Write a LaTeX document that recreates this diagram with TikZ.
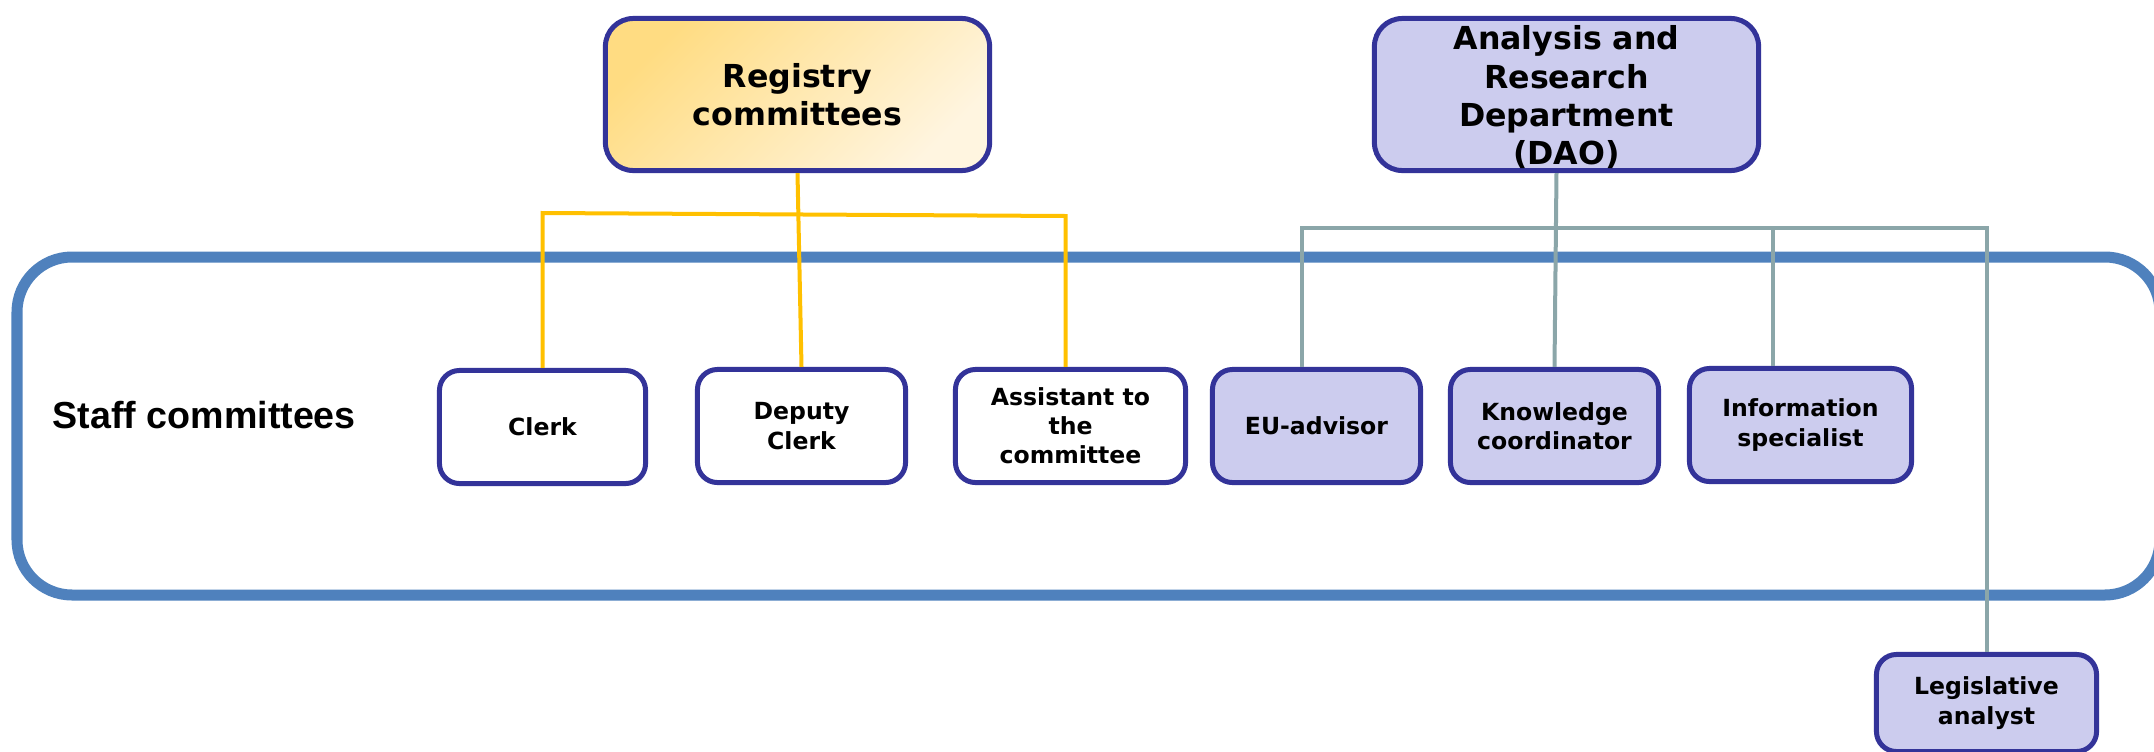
\documentclass[tikz,border=0pt]{standalone}
\usepackage{fontspec}
\setmainfont{DejaVu Sans}
\newfontfamily\arialfont{Liberation Sans}
\definecolor{boxblue}{RGB}{51,51,153}
\definecolor{boxfill}{RGB}{204,204,238}
\definecolor{staffblue}{RGB}{79,129,189}
\definecolor{regyellow}{RGB}{255,192,0}
\definecolor{daoteal}{RGB}{139,166,169}
\definecolor{goldtop}{RGB}{255,220,130}
\definecolor{goldbot}{RGB}{255,245,224}

\begin{document}
\begin{tikzpicture}[x=0.01cm,y=-0.01cm,
  staffbox/.style={draw=boxblue,line width=0.05cm,rounded corners=0.2cm,fill=white,
    minimum height=1.13cm,align=center,font=\fontsize{6.7}{8.3}\selectfont\bfseries},
  daobox/.style={staffbox,fill=boxfill},
  headbox/.style={draw=boxblue,line width=0.05cm,rounded corners=0.28cm,inner ysep=0pt,
    minimum width=3.84cm,minimum height=1.52cm,align=center,font=\fontsize{9}{10.9}\selectfont\bfseries},
  regline/.style={draw=regyellow,line width=0.04cm},
  daoline/.style={draw=daoteal,line width=0.04cm}]

\useasboundingbox (0,0) rectangle (2154,751);

\draw[staffblue,line width=0.11cm,rounded corners=0.55cm] (17,257) rectangle (2160,595);
\node[font=\arialfont\fontsize{10.7}{12}\selectfont\bfseries,anchor=west,inner sep=0pt] (staff) at (52,415) {Staff committees};

\node[headbox,top color=goldtop,bottom color=goldbot,shading angle=45] (reg) at (797.5,94.5) {Registry\\committees};
\node[headbox,fill=boxfill] (dao) at (1566.5,94.5) {\rule{0pt}{0.3cm}Analysis and\\Research\\Department\\(DAO)};

\node[staffbox,minimum width=2.06cm] (clerk) at (542.5,427) {Clerk};
\node[staffbox,minimum width=2.08cm] (deputy) at (801.5,426) {Deputy\\Clerk};
\node[staffbox,minimum width=2.30cm] (asst) at (1070.5,426) {Assistant to\\the\\committee};
\node[daobox,minimum width=2.08cm] (eu) at (1316.5,426) {EU-advisor};
\node[daobox,minimum width=2.08cm] (know) at (1554.5,426) {Knowledge\\coordinator};
\node[daobox,minimum width=2.22cm] (info) at (1800.5,425) {Information\\specialist};
\node[daobox,minimum width=2.20cm,minimum height=0.97cm] (legis) at (1986.5,703) {Legislative\\analyst};

\coordinate (regbusl) at (0,213);
\coordinate (regbusr) at (0,216);
\coordinate (daobus) at (0,228);

\draw[regline] (clerk.north) -- (clerk.north |- regbusl) -- ([xshift=-0.05cm]asst.north |- regbusr) -- ([xshift=-0.05cm]asst.north);
\draw[regline] (reg.south) -- (deputy.north);

\draw[daoline] ([xshift=-0.15cm]eu.north) -- ([xshift=-0.15cm]eu.north |- daobus) -- (legis.north |- daobus) -- (legis.north);
\draw[daoline] ([xshift=-0.1cm]dao.south) -- (know.north);
\draw[daoline] ([xshift=-0.28cm]info.north) -- ([xshift=-0.28cm]info.north |- daobus);
\end{tikzpicture}
\end{document}
